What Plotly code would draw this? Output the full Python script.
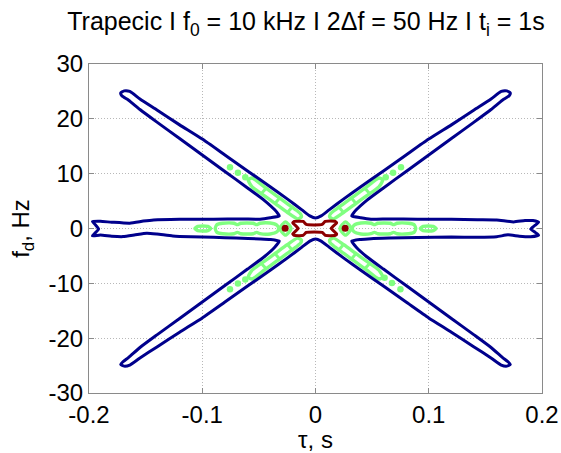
import plotly.graph_objects as go

# ---------------- data (tau in s, fd in Hz) ----------------
tick_x = [-0.2, -0.1, 0, 0.1, 0.2]
tick_x_text = ["-0.2", "-0.1", "0", "0.1", "0.2"]
tick_y = [-30, -20, -10, 0, 10, 20, 30]
tick_y_text = ["-30", "-20", "-10", "0", "10", "20", "30"]

# low level contour (dark blue): one closed outline of the X + horizontal ridge
blue_pts = [
    (-0.197, 1.26), (-0.190, 1.30), (-0.180, 1.15), (-0.164, 0.97), (-0.152, 1.35), (-0.143, 1.57),
    (-0.120, 1.70), (-0.090, 1.70), (-0.065, 1.75), (-0.049, 1.70), (-0.040, 1.95), (-0.032, 2.3),
    (-0.036, 3.4), (-0.045, 5.1), (-0.060, 7.4), (-0.080, 10.4), (-0.100, 13.4), (-0.120, 16.4),
    (-0.140, 19.4), (-0.155, 21.7), (-0.165, 23.4), (-0.171, 24.2),
    (-0.172, 24.7), (-0.169, 25.1), (-0.164, 25.0),
    (-0.155, 23.6), (-0.140, 21.6), (-0.120, 18.9), (-0.100, 16.3), (-0.080, 13.4), (-0.060, 10.5),
    (-0.040, 7.6), (-0.025, 5.4), (-0.012, 3.4), (-0.005, 2.3), (0.0, 1.9),
    (0.005, 2.3), (0.012, 3.4), (0.025, 5.4), (0.040, 7.6), (0.060, 10.5), (0.080, 13.4),
    (0.100, 16.3), (0.120, 18.9), (0.140, 21.6), (0.155, 23.6), (0.164, 25.0), (0.169, 25.1), (0.172, 24.7),
    (0.171, 24.2), (0.165, 23.4), (0.155, 21.7), (0.140, 19.4), (0.120, 16.4), (0.100, 13.4),
    (0.080, 10.4), (0.060, 7.4), (0.045, 5.1), (0.036, 3.4), (0.032, 2.3),
    (0.040, 1.95), (0.049, 1.70), (0.065, 1.75), (0.090, 1.70), (0.120, 1.70), (0.143, 1.60),
    (0.160, 1.55), (0.175, 1.20), (0.185, 1.45), (0.192, 1.45), (0.197, 1.15),
    (0.194, 0.6), (0.190, -0.1), (0.194, -0.7), (0.197, -1.2),
    (0.190, -1.5), (0.180, -1.40), (0.170, -1.15), (0.160, -1.50), (0.143, -1.60), (0.120, -1.55),
    (0.090, -1.65), (0.065, -1.75), (0.049, -1.85), (0.040, -2.0), (0.032, -2.3),
    (0.036, -3.4), (0.045, -5.1), (0.060, -7.4), (0.080, -10.4), (0.100, -13.4), (0.120, -16.4),
    (0.140, -19.4), (0.155, -21.7), (0.165, -23.5), (0.170, -24.3),
    (0.172, -24.8), (0.169, -25.1), (0.164, -24.9),
    (0.155, -23.6), (0.140, -21.6), (0.120, -18.9), (0.100, -16.3), (0.080, -13.4), (0.060, -10.5),
    (0.040, -7.6), (0.025, -5.4), (0.012, -3.4), (0.005, -2.3), (0.0, -1.9),
    (-0.005, -2.3), (-0.012, -3.4), (-0.025, -5.4), (-0.040, -7.6), (-0.060, -10.5), (-0.080, -13.4),
    (-0.100, -16.3), (-0.120, -18.9), (-0.140, -21.6), (-0.155, -23.6), (-0.164, -24.9), (-0.169, -25.1),
    (-0.172, -24.8),
    (-0.170, -24.3), (-0.165, -23.5), (-0.155, -21.7), (-0.140, -19.4), (-0.120, -16.4), (-0.100, -13.4),
    (-0.080, -10.4), (-0.060, -7.4), (-0.045, -5.1), (-0.036, -3.4), (-0.032, -2.3),
    (-0.040, -2.0), (-0.049, -1.90), (-0.070, -1.75), (-0.090, -1.60), (-0.110, -1.50), (-0.126, -1.35),
    (-0.140, -1.00), (-0.149, -0.86), (-0.160, -1.20), (-0.170, -1.48), (-0.180, -1.40), (-0.190, -1.17),
    (-0.197, -1.35),
    (-0.194, -0.7), (-0.1915, -0.1), (-0.194, 0.6), (-0.197, 1.26),
]

# middle level contours (light green): closed loops
green_loops = [
    # ridge ellipses at +-0.1 s
    [(-0.1065, 0.0), (-0.104, 0.38), (-0.0995, 0.45), (-0.095, 0.38), (-0.0925, 0.0), (-0.095, -0.38), (-0.0995, -0.45), (-0.104, -0.38), (-0.1065, 0.0)],
    [(0.0925, 0.0), (0.095, 0.38), (0.0995, 0.45), (0.104, 0.38), (0.1065, 0.0), (0.104, -0.38), (0.0995, -0.45), (0.095, -0.38), (0.0925, 0.0)],
    # ridge chains
    [(-0.0885, 0.0), (-0.087, 0.7), (-0.082, 0.95), (-0.072, 0.95), (-0.069, 0.7), (-0.066, 0.95), (-0.055, 0.95),
     (-0.052, 0.7), (-0.049, 0.95), (-0.040, 1.0), (-0.034, 0.6), (-0.0325, 0.0), (-0.034, -0.6), (-0.040, -1.0),
     (-0.049, -0.95), (-0.052, -0.7), (-0.055, -0.95), (-0.066, -0.95), (-0.069, -0.7), (-0.072, -0.95),
     (-0.082, -0.95), (-0.087, -0.7), (-0.0885, 0.0)],
    [(0.0885, 0.0), (0.087, 0.7), (0.082, 0.95), (0.072, 0.95), (0.069, 0.7), (0.066, 0.95), (0.055, 0.95),
     (0.052, 0.7), (0.049, 0.95), (0.040, 1.0), (0.034, 0.6), (0.0325, 0.0), (0.034, -0.6), (0.040, -1.0),
     (0.049, -0.95), (0.052, -0.7), (0.055, -0.95), (0.066, -0.95), (0.069, -0.7), (0.072, -0.95),
     (0.082, -0.95), (0.087, -0.7), (0.0885, 0.0)],
    # rings round the side peaks
    [(-0.0315, 0.0), (-0.0265, 1.2), (-0.0215, 0.0), (-0.0265, -1.2), (-0.0315, 0.0)],
    [(0.0215, 0.0), (0.0265, 1.2), (0.0315, 0.0), (0.0265, -1.2), (0.0215, 0.0)],
    # arm loops
    [(-0.0595, 8.9), (-0.056, 9.2), (-0.045, 7.55), (-0.035, 6.05), (-0.025, 4.55), (-0.017, 3.35), (-0.013, 2.6),
     (-0.0125, 2.1), (-0.016, 1.75), (-0.025, 2.95), (-0.035, 4.45), (-0.045, 5.95), (-0.056, 7.6), (-0.0595, 8.9)],
    [(0.0595, 8.9), (0.056, 9.2), (0.045, 7.55), (0.035, 6.05), (0.025, 4.55), (0.017, 3.35), (0.013, 2.6),
     (0.0125, 2.1), (0.016, 1.75), (0.025, 2.95), (0.035, 4.45), (0.045, 5.95), (0.056, 7.6), (0.0595, 8.9)],
    [(-0.0595, -8.9), (-0.056, -9.2), (-0.045, -7.55), (-0.035, -6.05), (-0.025, -4.55), (-0.017, -3.35), (-0.013, -2.6),
     (-0.0125, -2.1), (-0.016, -1.75), (-0.025, -2.95), (-0.035, -4.45), (-0.045, -5.95), (-0.056, -7.6), (-0.0595, -8.9)],
    [(0.0595, -8.9), (0.056, -9.2), (0.045, -7.55), (0.035, -6.05), (0.025, -4.55), (0.017, -3.35), (0.013, -2.6),
     (0.0125, -2.1), (0.016, -1.75), (0.025, -2.95), (0.035, -4.45), (0.045, -5.95), (0.056, -7.6), (0.0595, -8.9)],
]

# short light-green cross links that split the arm loops into chains
green_bars = [
    [(-0.0472, 6.5), (-0.0428, 7.5)], [(-0.0352, 4.7), (-0.0308, 5.8)], [(-0.0242, 3.05), (-0.0198, 4.1)],
    [(0.0472, 6.5), (0.0428, 7.5)], [(0.0352, 4.7), (0.0308, 5.8)], [(0.0242, 3.05), (0.0198, 4.1)],
    [(-0.0472, -6.5), (-0.0428, -7.5)], [(-0.0352, -4.7), (-0.0308, -5.8)], [(-0.0242, -3.05), (-0.0198, -4.1)],
    [(0.0472, -6.5), (0.0428, -7.5)], [(0.0352, -4.7), (0.0308, -5.8)], [(0.0242, -3.05), (0.0198, -4.1)],
]

# small isolated light-green islands along the arms
green_dot_tau = [-0.0755, -0.0685, -0.062, 0.0755, 0.0685, 0.062, -0.0755, -0.0685, -0.062, 0.075, 0.0675, 0.061]
green_dot_fd = [11.15, 10.15, 9.35, 11.15, 10.15, 9.35, -11.1, -10.05, -9.3, -11.1, -9.95, -9.0]

# high level contour (dark red) round the main peak
red_pts = [
    (-0.0188, 1.30), (-0.0109, 1.30), (-0.0082, 0.75), (-0.0011, 0.66), (0.0059, 0.75), (0.0086, 1.30),
    (0.0174, 1.30), (0.0187, 1.02), (0.0139, 0.02), (0.0187, -0.99), (0.0174, -1.26), (0.0086, -1.26),
    (0.0059, -0.71), (-0.0011, -0.62), (-0.0082, -0.71), (-0.0109, -1.26), (-0.0188, -1.26),
    (-0.0201, -0.99), (-0.0153, 0.02), (-0.0201, 1.02), (-0.0188, 1.30),
]
red_dot_tau = [-0.0268, 0.0262]
red_dot_fd = [0.05, 0.05]

BLUE = "#00008C"
GREEN = "#80FF80"
RED = "#8C0000"

fig = go.Figure()

gx, gy = [], []
for loop in green_loops:
    gx += [p[0] for p in loop] + [None]
    gy += [p[1] for p in loop] + [None]
fig.add_trace(go.Scatter(x=gx, y=gy, mode="lines", line=dict(color=GREEN, width=3.4, shape="spline", smoothing=0.6),
                         hoverinfo="skip", showlegend=False))
bx, by = [], []
for bar in green_bars:
    bx += [p[0] for p in bar] + [None]
    by += [p[1] for p in bar] + [None]
fig.add_trace(go.Scatter(x=bx, y=by, mode="lines", line=dict(color=GREEN, width=3),
                         hoverinfo="skip", showlegend=False))
fig.add_trace(go.Scatter(x=green_dot_tau, y=green_dot_fd, mode="markers",
                         marker=dict(color=GREEN, size=6.5, line=dict(width=0)), hoverinfo="skip", showlegend=False))

fig.add_trace(go.Scatter(x=[p[0] for p in blue_pts], y=[p[1] for p in blue_pts], mode="lines",
                         line=dict(color=BLUE, width=3, shape="spline", smoothing=0.5),
                         hoverinfo="skip", showlegend=False))

fig.add_trace(go.Scatter(x=[p[0] for p in red_pts], y=[p[1] for p in red_pts], mode="lines",
                         line=dict(color=RED, width=3, shape="spline", smoothing=0.4),
                         hoverinfo="skip", showlegend=False))
fig.add_trace(go.Scatter(x=red_dot_tau, y=red_dot_fd, mode="markers",
                         marker=dict(color=RED, size=7, line=dict(width=0)), hoverinfo="skip", showlegend=False))

FONT = "Liberation Sans, Arial, sans-serif"
axis_common = dict(
    automargin=False,
    showline=True, linecolor="#8a8a8a", linewidth=1, mirror="ticks",
    ticks="inside", ticklen=5, tickcolor="#8a8a8a",
    showgrid=True, gridcolor="#b8b8b8", griddash="1px,2px", gridwidth=1,
    zeroline=False, tickfont=dict(family=FONT, size=24, color="black"),
)
fig.update_layout(
    width=561, height=453,
    margin=dict(l=89, r=19, t=64, b=60),
    paper_bgcolor="white", plot_bgcolor="white",
    title=dict(text="Trapecic I f<sub>0</sub> = 10 kHz I 2\u0394f = 50 Hz I t<sub>i</sub> = 1s",
               x=0.479, xref="paper", xanchor="center", y=0.952, yref="container", yanchor="middle",
               font=dict(family=FONT, size=25, color="black")),
    xaxis=dict(range=[-0.2, 0.2], tickvals=tick_x, ticktext=tick_x_text,
               title=dict(text="\u03c4, s", font=dict(family=FONT, size=24, color="black"), standoff=2),
               **axis_common),
    yaxis=dict(range=[-30, 30], tickvals=tick_y, ticktext=tick_y_text,
               title=dict(text="f<sub>d</sub>, Hz", font=dict(family=FONT, size=24, color="black"), standoff=12),
               **axis_common),
)

fig.write_html("out.html", config={"displayModeBar": False},
               post_script="document.body.style.margin='0';document.body.style.overflow='hidden';")
